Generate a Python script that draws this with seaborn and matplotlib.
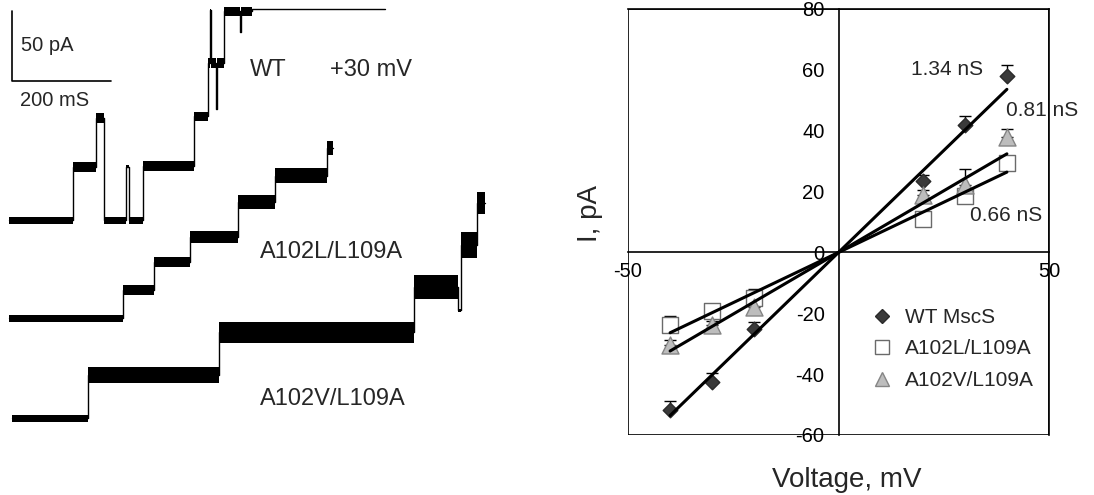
#!/usr/bin/env python
# coding: utf-8

# Registros de canal único (izquierda) y curva I-V (derecha)
import numpy as np
import pandas as pd
import seaborn as sns
import matplotlib

matplotlib.use('Agg')
import matplotlib.pyplot as plt
from matplotlib.lines import Line2D
from matplotlib.patches import Rectangle

sns.set_style('white')
plt.rcParams['font.family'] = ['Liberation Sans', 'DejaVu Sans']
plt.rcParams['axes.unicode_minus'] = False

# ---------------------------------------------------------------
# Datos de la curva I-V
# ---------------------------------------------------------------
voltaje = [-40, -30, -20, 20, 30, 40]   # mV
i_wt = [-51.8, -42.5, -25.0, 23.5, 42.0, 58.0]   # pA
err_wt = [3.0, 3.0, 2.0, 2.0, 3.0, 3.5]
i_a102l = [-23.8, -19.4, -15.0, 11.0, 18.5, 29.5]
err_a102l = [3.0, 1.5, 3.0, 1.5, 2.0, 1.5]
i_a102v = [-30.4, -24.0, -18.0, 19.0, 22.0, 38.0]
err_a102v = [1.5, 1.5, 2.0, 1.5, 5.5, 2.5]

mutantes = ['WT MscS', 'A102L/L109A', 'A102V/L109A']
conductancia = [1.34, 0.66, 0.81]   # nS, mismo orden que mutantes
etiquetas_g = ['1.34 nS', '0.66 nS', '0.81 nS']

# ---------------------------------------------------------------
# Registros: tiempos de cada tramo (ms), nivel (pA sobre la base)
# y semianchura del ruido (pA)
# ---------------------------------------------------------------
t_wt = [18, 147, 194, 210, 255, 261, 289, 392, 420, 425, 427, 437, 439,
        453, 484, 486, 509, 778]
niv_wt = [0, 38, 73, 0, 38, 0, 38.6, 74, 112, 150, 112, 79, 112,
          149, 134, 149, 151]
ruido_wt = [2.5, 3.5, 3.5, 2.5, 1, 2.5, 3.5, 3.5, 3.5, 0.5, 3.5, 0.5, 3.5,
            3.5, 0.5, 3.5, 0]
base_wt = 196.4

t_a102l = [18, 248, 311, 384, 481, 556, 661, 673]
niv_a102l = [0, 20, 40, 58, 83, 102, 122]
ruido_a102l = [2.5, 3.5, 3.5, 4.5, 5, 5.5, 5]
base_a102l = 126.2

t_a102v = [24, 178, 442, 836, 925, 931, 964, 980]
niv_a102v = [0, 30.7, 61.4, 93.6, 77, 123.6, 153.6]
ruido_a102v = [2.5, 5.5, 7.5, 8.5, 1, 9, 8]
base_a102v = 55.0

fig = plt.figure(figsize=(10.94, 4.95), dpi=100)

# ---------------------------------------------------------------
# Panel izquierdo: registros
# ---------------------------------------------------------------
ax1 = fig.add_axes([0, 0, 560 / 1094, 1])
ax1.set_xlim(0, 1131.4)
ax1.set_ylim(0, 353.6)
ax1.axis('off')

for t, niv, ruido, base in [(t_wt, niv_wt, ruido_wt, base_wt),
                            (t_a102l, niv_a102l, ruido_a102l, base_a102l),
                            (t_a102v, niv_a102v, ruido_a102v, base_a102v)]:
    y = np.array(niv + [niv[-1]]) + base
    r = np.array(ruido + [ruido[-1]])
    ax1.fill_between(t, y - r, y + r, step='post', color='black', lw=0)
    ax1.step(t, y, where='post', color='black', lw=1)

# barra de escala 200 ms / 50 pA
ax1.plot([24.5, 24.5, 224.5], [345.7, 295.7, 295.7], color='black', lw=1.2)
ax1.text(42, 321, '50 pA', fontsize=14.5, va='center')
ax1.text(40, 282, '200 mS', fontsize=14.5, va='center')

ax1.text(505, 303.6, 'WT', fontsize=17, va='center')
ax1.text(667, 303.6, '+30 mV', fontsize=17, va='center')
ax1.text(525, 173.6, 'A102L/L109A', fontsize=17, va='center')
ax1.text(525, 68.6, 'A102V/L109A', fontsize=17, va='center')

# ---------------------------------------------------------------
# Panel derecho: curva I-V
# ---------------------------------------------------------------
df = pd.DataFrame({
    'V': voltaje * 3,
    'I': i_wt + i_a102l + i_a102v,
    'err': err_wt + err_a102l + err_a102v,
    'mutante': [m for m in mutantes for _ in voltaje],
})

estilos = {
    'WT MscS': dict(marker='D', color='#3a3a3a', edgecolor='#2a2a2a', s=55),
    'A102L/L109A': dict(marker='s', color='white', edgecolor='#6a6a6a', s=130),
    'A102V/L109A': dict(marker='^', color='#bdbdbd', edgecolor='#858585', s=150),
}

ax2 = fig.add_axes([628 / 1094, 60 / 495, 421 / 1094, 426 / 495])

for m in mutantes:
    sub = df[df['mutante'] == m]
    ax2.errorbar(sub['V'], sub['I'], yerr=[np.zeros(len(sub)), sub['err']],
                 fmt='none', ecolor='black', elinewidth=1, capsize=4.5,
                 capthick=1, zorder=2)
    sns.scatterplot(data=sub, x='V', y='I', ax=ax2, linewidth=1,
                    zorder=3, legend=False, **estilos[m])

v_ext = np.array([voltaje[0], voltaje[-1]])
for g in conductancia:
    ax2.plot(v_ext, g * v_ext, color='black', lw=2.2, zorder=4)

ax2.text(25.8, 60, etiquetas_g[0], fontsize=15, ha='center', va='center')
ax2.text(39.8, 46.5, etiquetas_g[2], fontsize=15, ha='left', va='center',
         clip_on=False)
ax2.text(39.8, 12, etiquetas_g[1], fontsize=15, ha='center', va='center')

ax2.set_xlim(-50, 50)
ax2.set_ylim(-60, 80)
ax2.set_xticks([-50, 50])
ax2.set_yticks(range(-60, 81, 20))
ax2.spines['left'].set_position(('data', 0))
ax2.spines['bottom'].set_position(('data', 0))
for sp in ax2.spines.values():
    sp.set_color('black')
    sp.set_linewidth(1.2)
ax2.add_patch(Rectangle((0, 0), 1, 1, transform=ax2.transAxes, fill=False,
                        edgecolor='black', lw=1.2, zorder=1))
ax2.tick_params(axis='both', length=0, labelsize=14.5, colors='black')
ax2.tick_params(axis='x', pad=7)
ax2.tick_params(axis='y', pad=10)

ax2.set_xlabel('Voltage, mV', fontsize=20)
ax2.set_ylabel('I, pA', fontsize=20)
ax2.xaxis.set_label_coords(0.52, -0.075)
ax2.yaxis.set_label_coords(-0.059, 0.519)

manejadores = [Line2D([], [], ls='none', marker=estilos[m]['marker'],
                      markerfacecolor=estilos[m]['color'],
                      markeredgecolor=estilos[m]['edgecolor'],
                      markersize=np.sqrt(estilos[m]['s']) * (0.85 if m != 'WT MscS' else 1.0))
               for m in mutantes]
fig.legend(manejadores, mutantes, loc='upper left', frameon=False,
           bbox_to_anchor=(871.5 / 1094, (495 - 308) / 495), fontsize=15,
           handlelength=1.0, handletextpad=0.6, labelspacing=0.6,
           borderpad=0, borderaxespad=0)

fig.savefig('out.png', dpi=100)
